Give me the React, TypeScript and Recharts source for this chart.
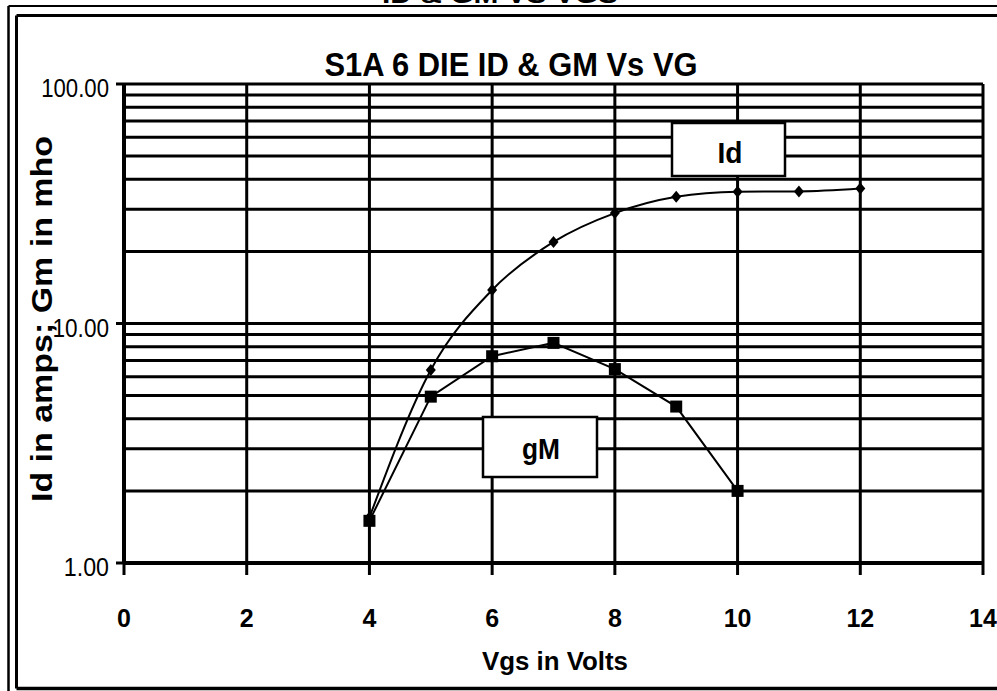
import { CartesianGrid, Line, LineChart, XAxis, YAxis } from 'recharts';

// Vgs sweep (volts)
const vgs = [4, 5, 6, 7, 8, 9, 10, 11, 12];
// drain current, amps
const idAmps = [1.55, 6.4, 13.8, 21.9, 28.9, 33.8, 35.5, 35.6, 36.6];
// transconductance, mho (measured only up to 10 V)
const gmMho = [1.5, 4.95, 7.3, 8.3, 6.45, 4.5, 2.0];

const xTicks = [0, 2, 4, 6, 8, 10, 12, 14];
const yGrid = [1, 2, 3, 4, 5, 6, 7, 8, 9, 10, 20, 30, 40, 50, 60, 70, 80, 90, 100];
const yLabelValues = [1, 10, 100];
const yLabelText = ['1.00', '10.00', '100.00'];

const data = vgs.map((v, i) => ({ v, id: idAmps[i], gm: gmMho[i] }));

const FONT = "'Liberation Sans', Arial, sans-serif";

const DiamondDot = (p: any) => {
  const { cx, cy, key } = p;
  if (cx == null || cy == null) return <g key={key} />;
  return (
    <polygon
      key={key}
      points={`${cx},${cy - 6} ${cx + 5},${cy} ${cx},${cy + 6} ${cx - 5},${cy}`}
      fill="#000"
    />
  );
};

const SquareDot = (p: any) => {
  const { cx, cy, key } = p;
  if (cx == null || cy == null) return <g key={key} />;
  return <rect key={key} x={cx - 6} y={cy - 6} width={12} height={12} fill="#000" />;
};

const YTick = (p: any) => {
  const { x, y, payload } = p;
  const idx = yLabelValues.indexOf(payload.value);
  if (idx < 0) return <g />;
  const label = yLabelText[idx];
  return (
    <g>
      <line x1={x + 6} x2={x + 14} y1={y} y2={y} stroke="#000" strokeWidth={3} />
      <text
        x={x - 1}
        y={y + 13}
        textAnchor="end"
        fontFamily={FONT}
        fontSize={25}
        fill="#000"
        textLength={label.length * 11.3}
        lengthAdjust="spacingAndGlyphs"
      >
        {label}
      </text>
    </g>
  );
};

const XTick = (p: any) => {
  const { x, y, payload } = p;
  return (
    <text x={x} y={y + 48} textAnchor="middle" fontFamily={FONT} fontSize={25} fontWeight="bold" fill="#000">
      {payload.value}
    </text>
  );
};

export default function App() {
  return (
    <div style={{ position: 'fixed', left: 0, top: 0, width: 997, height: 691, background: '#fff', overflow: 'hidden' }}>
      <div style={{ position: 'absolute', left: 0, top: 0 }}>
        <LineChart width={997} height={691} data={data} margin={{ top: 84, right: 14, bottom: 88, left: 64 }}>
          <CartesianGrid stroke="#000" strokeWidth={3} />
          <XAxis
            dataKey="v"
            type="number"
            domain={[0, 14]}
            ticks={xTicks}
            interval={0}
            height={40}
            tickSize={12}
            tickMargin={4}
            tickLine={{ stroke: '#000', strokeWidth: 3 }}
            axisLine={{ stroke: '#000', strokeWidth: 4 }}
            tick={XTick}
          />
          <YAxis
            type="number"
            scale="log"
            domain={[1, 100]}
            allowDataOverflow
            ticks={yGrid}
            interval={0}
            width={60}
            tickSize={8}
            tickMargin={6}
            tickLine={false}
            axisLine={{ stroke: '#000', strokeWidth: 4 }}
            tick={YTick}
          />
          <Line
            dataKey="id"
            type="monotone"
            stroke="#000"
            strokeWidth={2}
            dot={DiamondDot}
            activeDot={false}
            isAnimationActive={false}
          />
          <Line
            dataKey="gm"
            type="linear"
            stroke="#000"
            strokeWidth={2}
            dot={SquareDot}
            activeDot={false}
            isAnimationActive={false}
          />
        </LineChart>
      </div>
      <svg
        width={997}
        height={691}
        style={{ position: 'absolute', left: 0, top: 0, pointerEvents: 'none' }}
        fontFamily={FONT}
      >
        {/* outer double frame */}
        <line x1={8.5} y1={6} x2={997} y2={6} stroke="#000" strokeWidth={2} />
        <line x1={8.5} y1={6} x2={8.5} y2={691} stroke="#000" strokeWidth={2.5} />
        <line x1={16.5} y1={15.5} x2={997} y2={15.5} stroke="#000" strokeWidth={3} />
        <line x1={16.5} y1={15.5} x2={16.5} y2={688.5} stroke="#000" strokeWidth={3} />
        <line x1={16.5} y1={688.5} x2={997} y2={688.5} stroke="#000" strokeWidth={3.5} />

        <text x={500} y={3} textAnchor="middle" fontSize={26} fontWeight="bold" textLength={236} lengthAdjust="spacingAndGlyphs">
          ID &amp; GM VS VGS
        </text>
        <text x={511} y={76} textAnchor="middle" fontSize={33} fontWeight="bold" textLength={373} lengthAdjust="spacingAndGlyphs">
          S1A 6 DIE ID &amp; GM Vs VG
        </text>

        <text
          transform="translate(52 319) rotate(-90)"
          textAnchor="middle"
          fontSize={29}
          fontWeight="bold"
          textLength={366}
          lengthAdjust="spacingAndGlyphs"
        >
          Id in amps;  Gm in mho
        </text>
        <text x={555} y={670} textAnchor="middle" fontSize={25} fontWeight="bold" textLength={146} lengthAdjust="spacingAndGlyphs">
          Vgs in Volts
        </text>

        <rect x={672} y={123} width={113} height={53} fill="#fff" stroke="#000" strokeWidth={2.5} />
        <text x={730} y={163} textAnchor="middle" fontSize={29} fontWeight="bold" textLength={25} lengthAdjust="spacingAndGlyphs">
          Id
        </text>
        <rect x={483} y={417} width={114} height={60} fill="#fff" stroke="#000" strokeWidth={2.5} />
        <text x={541} y={459} textAnchor="middle" fontSize={29} fontWeight="bold" textLength={38} lengthAdjust="spacingAndGlyphs">
          gM
        </text>
      </svg>
    </div>
  );
}
